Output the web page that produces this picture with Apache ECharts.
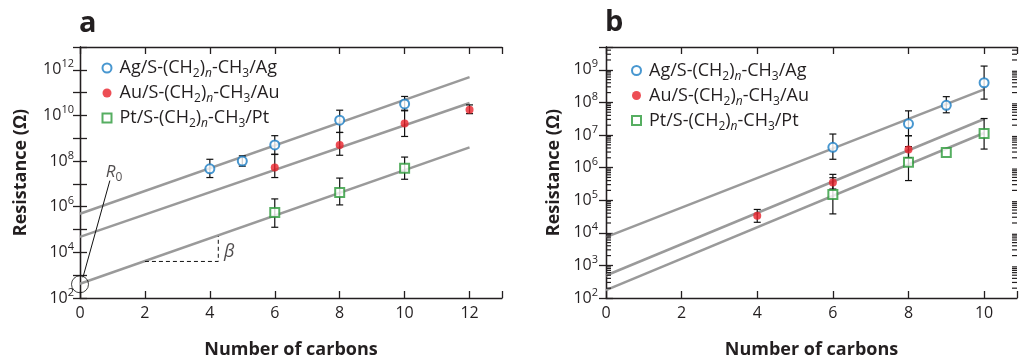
<!DOCTYPE html>
<html><head><meta charset="utf-8">
<script src="https://cdn.jsdelivr.net/npm/echarts@6/dist/echarts.min.js"></script>
<style>html,body{margin:0;padding:0;background:#fff}#c{width:1020px;height:364px}</style>
</head><body><div id="c"></div>
<script>
const FONT = '"Open Sans", "DejaVu Sans", sans-serif';
const INK = '#231f20';
const C_AG = '#1a7dc4', C_AU = '#e8222a', C_PT = '#2c9a3a', C_FIT = '#9a9a9a';

const NAME_AG = 'Ag/S-(CH2)n-CH3/Ag';
const NAME_AU = 'Au/S-(CH2)n-CH3/Au';
const NAME_PT = 'Pt/S-(CH2)n-CH3/Pt';

// ---------- Panel a data (resistance in ohm) ----------
const agA_n = [4, 5, 6, 8, 10];
const agA_R = [4.6e7, 1.0e8, 5.1e8, 6.2e9, 3.2e10];
const agA_lo = [1.9e7, 6.0e7, 2.0e8, 1.8e9, 1.6e10];
const agA_hi = [1.2e8, 1.7e8, 1.3e9, 1.7e10, 6.8e10];
const auA_n = [6, 8, 10, 12];
const auA_R = [5.2e7, 5.1e8, 4.4e9, 1.8e10];
const auA_lo = [1.9e7, 1.8e8, 1.2e9, 1.2e10];
const auA_hi = [1.95e8, 1.8e9, 1.7e10, 2.9e10];
const ptA_n = [6, 8, 10];
const ptA_R = [5.6e5, 4.2e6, 4.8e7];
const ptA_lo = [1.26e5, 1.2e6, 1.6e7];
const ptA_hi = [2.2e6, 1.8e7, 1.5e8];
const fitA_n = [0, 12];
const fitA_ag = [4.9e5, 4.8e11];
const fitA_au = [4.8e4, 3.5e10];
const fitA_pt = [4.2e2, 4.0e8];

// ---------- Panel b data ----------
const agB_n = [6, 8, 9, 10];
const agB_R = [4.2e6, 2.2e7, 8.1e7, 4.0e8];
const agB_lo = [1.8e6, 9.5e6, 4.8e7, 1.26e8];
const agB_hi = [1.07e7, 5.5e7, 1.5e8, 1.3e9];
const auB_n = [4, 6, 8];
const auB_R = [3.35e4, 3.5e5, 3.6e6];
const auB_lo = [2.1e4, 2.2e5, 2.0e6];
const auB_hi = [5.2e4, 6.2e5, 9.5e6];
const ptB_n = [6, 8, 9, 10];
const ptB_R = [1.5e5, 1.45e6, 2.9e6, 1.12e7];
const ptB_lo = [3.8e4, 4.0e5, null, 3.7e6];
const ptB_hi = [4.9e5, 4.4e6, null, 3.2e7];
const fitB_n = [0, 10];
const fitB_ag = [7.4e3, 2.5e8];
const fitB_au = [4.9e2, 3.1e7];
const fitB_pt = [1.75e2, 1.15e7];

// axis ranges
const xA_range = [0, 13];
const xB_range = [0, 10.87];
const yA_range = [1e2, 1e13];
const yB_range = [1e2, 5e9];

// annotation anchors (data space: carbons, resistance)
const r0_point = [0, 4.0e2];
const r0_leader = [[0.09, 8e2], [0.92, 1.4e7]];
const r0_label = [1.05, 3.2e7];
const beta_path = [[2, 4.0e3], [4.26, 4.0e3], [4.26, 5.2e4]];
const beta_label = [4.6, 1.1e4];

const L = Math.log10;
const pts = (n, r) => n.map((v, i) => [v, L(r[i])]);
const errs = (n, lo, hi) => n.map((v, i) => lo[i] == null ? null : [v, L(lo[i]), L(hi[i])]).filter(Boolean);

function errItem(params, api) {
  const x = api.value(0);
  const p1 = api.coord([x, api.value(1)]);
  const p2 = api.coord([x, api.value(2)]);
  const w = 3.5;
  const st = {stroke: '#111', lineWidth: 1.2};
  return {type: 'group', children: [
    {type: 'line', shape: {x1: p1[0], y1: p1[1], x2: p2[0], y2: p2[1]}, style: st},
    {type: 'line', shape: {x1: p1[0] - w, y1: p1[1], x2: p1[0] + w, y2: p1[1]}, style: st},
    {type: 'line', shape: {x1: p2[0] - w, y1: p2[1], x2: p2[0] + w, y2: p2[1]}, style: st}
  ]};
}

// minor log ticks (2..9 per decade) drawn on both inner edges of panel b
function minorTickItem(params, api) {
  const v = api.value(1);
  const pl = api.coord([xB_range[0], v]);
  const pr = api.coord([xB_range[1], v]);
  const st = {stroke: INK, lineWidth: 1.2};
  return {type: 'group', children: [
    {type: 'line', shape: {x1: pl[0], y1: pl[1], x2: pl[0] + 5, y2: pl[1]}, style: st},
    {type: 'line', shape: {x1: pr[0] - 5, y1: pr[1], x2: pr[0], y2: pr[1]}, style: st}
  ]};
}
const minorB = [];
for (let d = 2; d <= 9; d++) for (let k = 2; k <= 9; k++) {
  const v = k * Math.pow(10, d);
  if (v < yB_range[1]) minorB.push([xB_range[0], L(v)]);
}

const isInt = v => Math.abs(v - Math.round(v)) < 1e-6;
const richTick = {
  b: {fontSize: 16, fontFamily: FONT, color: INK, lineHeight: 22},
  p: {fontSize: 11, fontFamily: FONT, color: INK, lineHeight: 12, verticalAlign: 'top'}
};
const richLegend = {
  t: {fontSize: 18, fontFamily: FONT, color: INK, lineHeight: 24},
  s: {fontSize: 12, fontFamily: FONT, color: INK, lineHeight: 13, verticalAlign: 'bottom'},
  si: {fontSize: 12, fontFamily: FONT, fontStyle: 'italic', color: INK, lineHeight: 13, verticalAlign: 'bottom'}
};
const legendText = {};
legendText[NAME_AG] = '{t|Ag/S-(CH}{s|2}{t|)}{si|n}{t|-CH}{s|3}{t|/Ag}';
legendText[NAME_AU] = '{t|Au/S-(CH}{s|2}{t|)}{si|n}{t|-CH}{s|3}{t|/Au}';
legendText[NAME_PT] = '{t|Pt/S-(CH}{s|2}{t|)}{si|n}{t|-CH}{s|3}{t|/Pt}';

const lineAx = {show: true, lineStyle: {color: INK, width: 1.3}};
const nameStyle = {fontFamily: FONT, fontSize: 18, fontWeight: 'bold', color: INK};

function xAxes(range, grid, labelMax) {
  return [{
    type: 'value', gridIndex: grid, position: 'bottom', min: range[0], max: range[1], interval: 2,
    axisLine: lineAx, axisTick: {inside: true, length: 7, lineStyle: {color: INK, width: 1.3}},
    splitLine: {show: false},
    axisLabel: {margin: 7, fontFamily: FONT, fontSize: 16, color: INK,
      formatter: v => (isInt(v) && Math.round(v) % 2 === 0 && v <= labelMax) ? String(Math.round(v)) : ''},
    name: 'Number of carbons', nameLocation: 'middle', nameGap: 43, nameTextStyle: nameStyle
  }, {
    type: 'value', gridIndex: grid, position: 'top', min: range[0], max: range[1], interval: 2,
    axisLine: lineAx, axisTick: {inside: true, length: 7, lineStyle: {color: INK, width: 1.3}},
    splitLine: {show: false}, axisLabel: {show: false}
  }];
}

function yMain(range, grid, position, labelFn, withName, nameGap, margin) {
  const ax = {
    type: 'value', gridIndex: grid, position: position, min: L(range[0]), max: L(range[1]), interval: 1,
    axisLine: lineAx, axisTick: {inside: true, length: 7, lineStyle: {color: INK, width: 1.3}},
    splitLine: {show: false},
    axisLabel: labelFn ? {margin: margin, rich: richTick, formatter: labelFn} : {show: false}
  };
  if (withName) {
    Object.assign(ax, {name: 'Resistance (Ω)', nameLocation: 'middle', nameRotate: 90, nameGap: nameGap, nameTextStyle: nameStyle});
  }
  return ax;
}

const labA = v => (isInt(v) && Math.round(v) % 2 === 0) ? '{b|10}{p|' + Math.round(v) + '}' : '';
const labB = v => (isInt(v) && v < 9.5) ? '{b|10}{p|' + Math.round(v) + '}' : '';

function panelSeries(xi, yi, d) {
  const base = {xAxisIndex: xi, yAxisIndex: yi, silent: true};
  const fit = (data) => Object.assign({type: 'line', data: data, symbol: 'none', z: 2,
    lineStyle: {color: C_FIT, width: 2.5}}, base);
  const err = (data) => Object.assign({type: 'custom', renderItem: errItem, data: data, z: 3,
    encode: {x: 0, y: [1, 2]}}, base);
  return [
    fit(pts(d.fitN, d.fitAg)), fit(pts(d.fitN, d.fitAu)), fit(pts(d.fitN, d.fitPt)),
    err(errs(d.agN, d.agLo, d.agHi)), err(errs(d.auN, d.auLo, d.auHi)), err(errs(d.ptN, d.ptLo, d.ptHi)),
    Object.assign({type: 'scatter', name: NAME_AU, data: pts(d.auN, d.auR), symbol: 'circle', symbolSize: 8, z: 4,
      itemStyle: {color: C_AU}}, base),
    Object.assign({type: 'scatter', name: NAME_PT, data: pts(d.ptN, d.ptR), symbol: 'rect', symbolSize: 9, z: 4,
      itemStyle: {color: '#fff', borderColor: C_PT, borderWidth: 2}}, base),
    Object.assign({type: 'scatter', name: NAME_AG, data: pts(d.agN, d.agR), symbol: 'circle', symbolSize: 9, z: 5,
      itemStyle: {color: '#fff', borderColor: C_AG, borderWidth: 2}}, base)
  ];
}

const seriesA = panelSeries(0, 0, {
  fitN: fitA_n, fitAg: fitA_ag, fitAu: fitA_au, fitPt: fitA_pt,
  agN: agA_n, agR: agA_R, agLo: agA_lo, agHi: agA_hi,
  auN: auA_n, auR: auA_R, auLo: auA_lo, auHi: auA_hi,
  ptN: ptA_n, ptR: ptA_R, ptLo: ptA_lo, ptHi: ptA_hi
});
const seriesB = panelSeries(2, 2, {
  fitN: fitB_n, fitAg: fitB_ag, fitAu: fitB_au, fitPt: fitB_pt,
  agN: agB_n, agR: agB_R, agLo: agB_lo, agHi: agB_hi,
  auN: auB_n, auR: auB_R, auLo: auB_lo, auHi: auB_hi,
  ptN: ptB_n, ptR: ptB_R, ptLo: ptB_lo, ptHi: ptB_hi
});
seriesB.push({type: 'custom', xAxisIndex: 2, yAxisIndex: 2, silent: true, z: 7, clip: false,
  renderItem: minorTickItem, data: minorB, encode: {x: 0, y: 1}});

const annoBase = {xAxisIndex: 0, yAxisIndex: 0, silent: true};
const annotations = [
  Object.assign({type: 'scatter', data: [[r0_point[0], L(r0_point[1])]], symbol: 'circle', symbolSize: 17, clip: false, z: 6,
    itemStyle: {color: 'rgba(0,0,0,0)', borderColor: '#111', borderWidth: 1}}, annoBase),
  Object.assign({type: 'line', data: r0_leader.map(p => [p[0], L(p[1])]), symbol: 'none', clip: false, z: 6,
    lineStyle: {color: '#111', width: 1}}, annoBase),
  Object.assign({type: 'line', data: beta_path.map(p => [p[0], L(p[1])]), symbol: 'none', z: 6,
    lineStyle: {color: '#111', width: 1, type: [4, 3]}}, annoBase),
  Object.assign({type: 'scatter', data: [[r0_label[0], L(r0_label[1])]], symbolSize: 1, z: 6,
    itemStyle: {color: 'rgba(0,0,0,0)'},
    label: {show: true, position: 'inside', formatter: '{i|R}{s|0}', rich: {
      i: {fontFamily: FONT, fontSize: 17, fontStyle: 'italic', color: INK, lineHeight: 22},
      s: {fontFamily: FONT, fontSize: 12, color: INK, lineHeight: 12, verticalAlign: 'bottom'}}}}, annoBase),
  Object.assign({type: 'scatter', data: [[beta_label[0], L(beta_label[1])]], symbolSize: 1, z: 6,
    itemStyle: {color: 'rgba(0,0,0,0)'},
    label: {show: true, position: 'inside', formatter: 'β', fontFamily: FONT, fontSize: 18, fontStyle: 'italic', color: INK}}, annoBase)
];

const legendCommon = {
  orient: 'vertical', itemWidth: 9, itemHeight: 9, itemGap: 4, padding: 0, selectedMode: false,
  data: [NAME_AG, NAME_AU, NAME_PT],
  formatter: n => legendText[n],
  textStyle: {padding: [0, 0, 0, 3], rich: richLegend}
};

const option = {
  animation: false,
  backgroundColor: '#fff',
  title: [
    {text: 'a', left: 79, top: 9, padding: 0, textStyle: {fontFamily: FONT, fontSize: 29, fontWeight: 'bold', color: INK}},
    {text: 'b', left: 605, top: 8, padding: 0, textStyle: {fontFamily: FONT, fontSize: 29, fontWeight: 'bold', color: INK}}
  ],
  legend: [
    Object.assign({left: 101.5, top: 59}, legendCommon),
    Object.assign({left: 631, top: 61.5}, legendCommon)
  ],
  grid: [
    {left: 80, top: 47, width: 422, height: 264},
    {left: 606, top: 47, width: 413.5, height: 264}
  ],
  xAxis: [].concat(xAxes(xA_range, 0, 12), xAxes(xB_range, 1, 10)),
  yAxis: [
    yMain(yA_range, 0, 'left', labA, true, 50, 6),
    yMain(yA_range, 0, 'right', null, false),
    yMain(yB_range, 1, 'left', labB, true, 43, 8),
    yMain(yB_range, 1, 'right', null, false)
  ],
  series: [].concat(seriesA, seriesB, annotations)
};

const chart = echarts.init(document.getElementById('c'), null, {renderer: 'canvas'});
chart.setOption(option);
</script>
</body></html>
